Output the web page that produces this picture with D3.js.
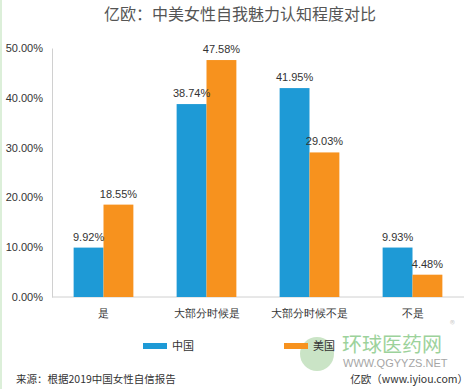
<!DOCTYPE html>
<html>
<head>
<meta charset="utf-8">
<script src="https://cdn.jsdelivr.net/npm/d3@7"></script>
<style>
  body { margin: 0; background: #fff; }
  svg { display: block; font-family: "Noto Sans CJK SC", "Liberation Sans", sans-serif; }
</style>
</head>
<body>
<div id="chart"></div>
<script>
// data
const categories = ['是', '大部分时候是', '大部分时候不是', '不是']
const seriesNames = ['中国', '美国']
const china = [9.92, 38.74, 41.95, 9.93]
const usa = [18.55, 47.58, 29.03, 4.48]
const yTicks = [0, 10, 20, 30, 40, 50]

const width = 474,
    height = 389
const margin = { top: 48, right: 10, bottom: 92, left: 52 }
const colors = ['#1e9ad6', '#f7921e']

const svg = d3.select('#chart')
    .append('svg')
    .attr('width', width)
    .attr('height', height)

svg.append('rect').attr('width', width).attr('height', height).attr('fill', '#fff')
// thin green page edge on the left
svg.append('rect').attr('x', 0).attr('y', 0).attr('width', 2).attr('height', height).attr('fill', '#dcefd9')

svg.append('text')
    .attr('x', 240)
    .attr('y', 20)
    .attr('text-anchor', 'middle')
    .style('font-size', '16px')
    .attr('fill', '#555')
    .text('亿欧：中美女性自我魅力认知程度对比')

const x = d3.scaleBand()
    .domain(categories)
    .range([margin.left, width - margin.right])
    .paddingInner(0.42)
    .paddingOuter(0.21)

const xSub = d3.scaleBand()
    .domain(seriesNames)
    .range([0, x.bandwidth()])

const y = d3.scaleLinear()
    .domain([0, 50])
    .range([height - margin.bottom, margin.top])

// y axis labels
const yAxis = d3.axisLeft(y)
    .tickValues(yTicks)
    .tickSize(0)
    .tickPadding(9)
    .tickFormat(d => d.toFixed(2) + '%')

const gy = svg.append('g')
    .attr('transform', `translate(${margin.left},0)`)
    .call(yAxis)
gy.select('.domain').attr('stroke', '#d0d0d0')
gy.selectAll('text').style('font-size', '11px').attr('fill', '#333')
    .style('font-family', '"Liberation Sans", sans-serif')

// x axis baseline
const xAxis = d3.axisBottom(x).tickSize(0).tickPadding(12)
const gx = svg.append('g')
    .attr('transform', `translate(0,${y(0)})`)
    .call(xAxis)
gx.select('.domain').attr('stroke', '#d0d0d0').attr('d', `M${margin.left},0H${width - margin.right}`)
gx.selectAll('text').style('font-size', '11px').attr('fill', '#333')

const rows = categories.map((c, i) => ({ cat: c, values: [china[i], usa[i]] }))

const groups = svg.selectAll('.grp')
    .data(rows)
    .enter()
    .append('g')
    .attr('transform', d => `translate(${x(d.cat)},0)`)

groups.selectAll('rect')
    .data(d => d.values.map((v, j) => ({ name: seriesNames[j], v, j })))
    .enter()
    .append('rect')
    .attr('x', d => xSub(d.name))
    .attr('y', d => y(d.v))
    .attr('width', xSub.bandwidth())
    .attr('height', d => y(0) - y(d.v))
    .attr('fill', d => colors[d.j])

groups.selectAll('.lbl')
    .data(d => d.values.map((v, j) => ({ name: seriesNames[j], v, j })))
    .enter()
    .append('text')
    .attr('x', d => xSub(d.name) + xSub.bandwidth() / 2)
    .attr('y', d => y(d.v) - 7)
    .attr('text-anchor', 'middle')
    .style('font-size', '11px')
    .style('font-family', '"Liberation Sans", sans-serif')
    .attr('fill', '#333')
    .text(d => d.v.toFixed(2) + '%')

// watermark
const wm = svg.append('g').attr('opacity', 0.75)
wm.append('circle').attr('cx', 317).attr('cy', 354).attr('r', 17).attr('fill', '#b9dcb3')
wm.append('text')
    .attr('x', 342).attr('y', 352)
    .style('font-size', '20px')
    .attr('fill', '#7cc47a')
    .text('环球医药网')
wm.append('text')
    .attr('x', 450).attr('y', 328)
    .style('font-size', '10px')
    .attr('fill', '#bbb')
    .text('®')
wm.append('text')
    .attr('x', 343).attr('y', 367)
    .style('font-size', '11px')
    .style('font-family', '"Liberation Sans", sans-serif')
    .attr('fill', '#888')
    .text('WWW.QGYYZS.NET')

// legend
const legend = svg.selectAll('.leg')
    .data(seriesNames)
    .enter()
    .append('g')
    .attr('transform', (d, i) => `translate(${i ? 284 : 143},346)`)
legend.append('rect')
    .attr('x', 0).attr('y', -3)
    .attr('width', 24).attr('height', 6)
    .attr('fill', (d, i) => colors[i])
legend.append('text')
    .attr('x', 29).attr('y', 4)
    .style('font-size', '11px')
    .attr('fill', '#333')
    .text(d => d)

// footer
svg.append('text')
    .attr('x', 16).attr('y', 383)
    .style('font-size', '10.5px')
    .attr('fill', '#333')
    .text('来源：根据2019中国女性自信报告')
svg.append('text')
    .attr('x', 468).attr('y', 383)
    .attr('text-anchor', 'end')
    .style('font-size', '10.5px')
    .attr('fill', '#333')
    .text('亿欧（www.iyiou.com）')
</script>
</body>
</html>
